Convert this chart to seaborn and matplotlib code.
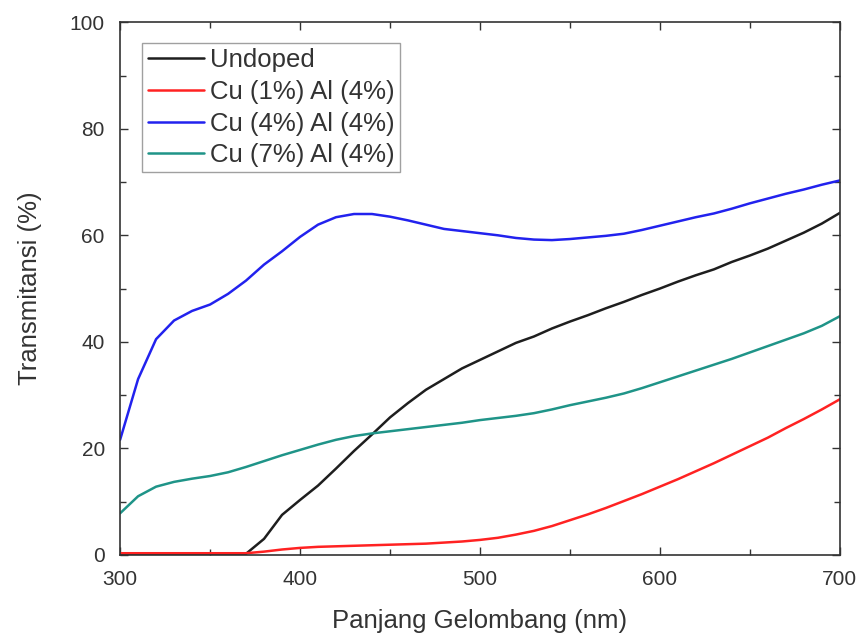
import numpy as np
import pandas as pd
import matplotlib
matplotlib.use("Agg")
import matplotlib.pyplot as plt
from matplotlib.ticker import MultipleLocator
import seaborn as sns

wavelength = list(range(300, 710, 10))

undoped = [0.2, 0.2, 0.2, 0.2, 0.2, 0.2, 0.2, 0.2, 3.0, 7.5,
           10.3, 13.0, 16.2, 19.5, 22.6, 25.8, 28.5, 31.0, 33.0, 35.0,
           36.6, 38.2, 39.8, 41.0, 42.5, 43.8, 45.0, 46.3, 47.5, 48.8,
           50.0, 51.3, 52.5, 53.6, 55.0, 56.2, 57.5, 59.0, 60.5, 62.2,
           64.2]
cu1 = [0.3, 0.3, 0.3, 0.3, 0.3, 0.3, 0.3, 0.3, 0.6, 1.0,
       1.3, 1.5, 1.6, 1.7, 1.8, 1.9, 2.0, 2.1, 2.3, 2.5,
       2.8, 3.2, 3.8, 4.5, 5.4, 6.5, 7.6, 8.8, 10.1, 11.4,
       12.8, 14.2, 15.7, 17.2, 18.8, 20.4, 22.0, 23.8, 25.5, 27.3,
       29.2]
cu4 = [21.6, 33.0, 40.5, 44.0, 45.8, 47.0, 49.0, 51.5, 54.5, 57.0,
       59.7, 62.0, 63.4, 64.0, 64.0, 63.5, 62.8, 62.0, 61.2, 60.8,
       60.4, 60.0, 59.5, 59.2, 59.1, 59.3, 59.6, 59.9, 60.3, 61.0,
       61.8, 62.6, 63.4, 64.1, 65.0, 66.0, 66.9, 67.8, 68.6, 69.5,
       70.3]
cu7 = [7.8, 11.0, 12.8, 13.7, 14.3, 14.8, 15.5, 16.5, 17.6, 18.7,
       19.7, 20.7, 21.6, 22.3, 22.8, 23.2, 23.6, 24.0, 24.4, 24.8,
       25.3, 25.7, 26.1, 26.6, 27.3, 28.1, 28.8, 29.5, 30.3, 31.3,
       32.4, 33.5, 34.6, 35.7, 36.8, 38.0, 39.2, 40.4, 41.6, 43.0,
       44.8]

series_names = ["Undoped", "Cu (1%) Al (4%)", "Cu (4%) Al (4%)", "Cu (7%) Al (4%)"]
series_values = [undoped, cu1, cu4, cu7]
colors = ["#1e1e1e", "#ff2222", "#2222ee", "#1f9488"]

df = pd.concat(
    [pd.DataFrame({"wl": wavelength, "T": vals, "sample": name})
     for name, vals in zip(series_names, series_values)],
    ignore_index=True,
)

sns.set_style("ticks")
plt.rcParams["font.family"] = ["Liberation Sans", "DejaVu Sans"]

fig = plt.figure(figsize=(8.64, 6.37), dpi=100)
ax = fig.add_axes([0.139, 0.129, 0.833, 0.836])

sns.lineplot(data=df, x="wl", y="T", hue="sample", hue_order=series_names,
             palette=colors, linewidth=1.8, ax=ax, sort=False)

ax.set_xlim(300, 700)
ax.set_ylim(0, 100)
ax.xaxis.set_major_locator(MultipleLocator(100))
ax.xaxis.set_minor_locator(MultipleLocator(50))
ax.yaxis.set_major_locator(MultipleLocator(20))
ax.yaxis.set_minor_locator(MultipleLocator(10))
ax.tick_params(which="both", direction="in", top=True, right=True,
               color="#333333", labelsize=15, labelcolor="#333333")
ax.tick_params(axis="x", pad=11)
ax.tick_params(axis="y", pad=11)
ax.tick_params(which="major", length=6, width=1)
ax.tick_params(which="minor", length=4, width=1)
for s in ax.spines.values():
    s.set_color("#333333")
    s.set_linewidth(1.2)

ax.set_xlabel("Panjang Gelombang (nm)", fontsize=18.5, color="#333333", labelpad=14)
ax.set_ylabel("Transmitansi (%)", fontsize=18.5, color="#333333", labelpad=20)

leg = ax.legend(loc="upper left", bbox_to_anchor=(0.031, 0.961), fontsize=18.5,
                frameon=True, fancybox=False, handlelength=2.2,
                handletextpad=0.25, borderpad=0.2, labelspacing=0.3,
                borderaxespad=0)
leg.get_frame().set_edgecolor("#888888")
leg.get_frame().set_linewidth(1.0)
for t in leg.get_texts():
    t.set_color("#333333")

fig.savefig("out.png", dpi=100)
